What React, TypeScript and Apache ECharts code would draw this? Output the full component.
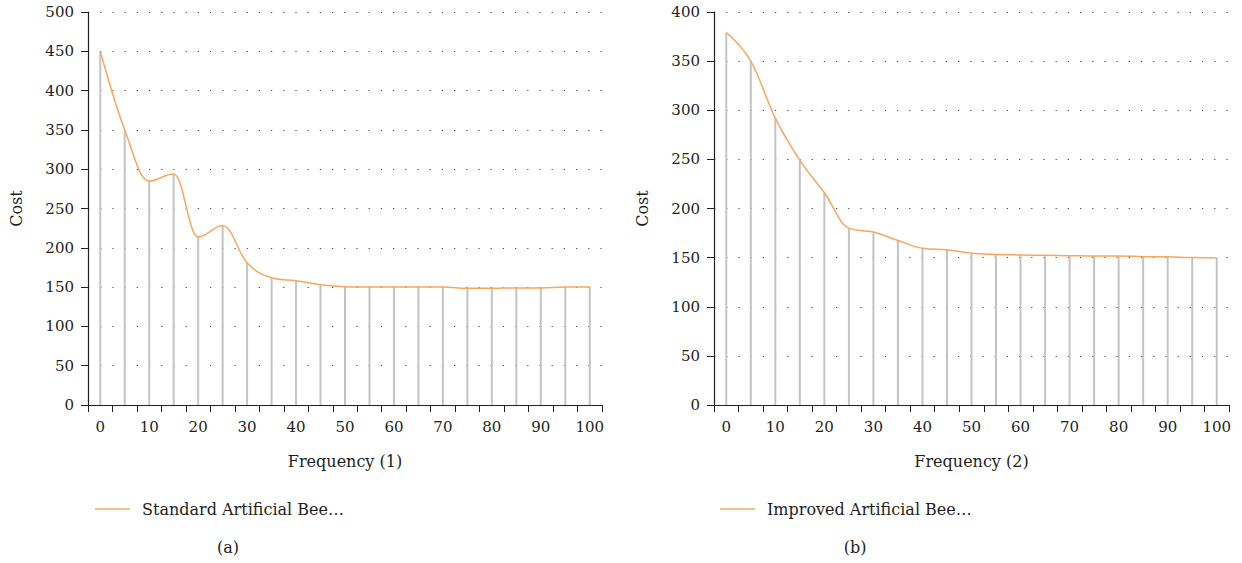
import React, { useEffect, useRef } from "react";
import * as echarts from "echarts";

const categories = ["0","5","10","15","20","25","30","35","40","45","50","55","60","65","70","75","80","85","90","95","100"];
const standardCost = [450, 350, 285, 294, 214, 228, 181, 162, 158, 153, 150.5, 150, 150, 150, 150, 148.5, 148.5, 149, 149, 150, 150];
const improvedCost = [379, 350, 292, 249, 216, 180, 176, 167.5, 159.5, 158, 154.5, 153.3, 152.7, 152.3, 152, 151.6, 151.6, 151, 150.8, 150.2, 150];
const standardName = "Standard Artificial Bee…";
const improvedName = "Improved Artificial Bee…";
const xNames = ["Frequency (1)", "Frequency (2)"];
const yName = "Cost";
const panelLabels = ["(a)", "(b)"];

const FONT = "DejaVu Serif";
const LINE_COLOR = "#f7a75e";
const BAR_COLOR = "#c4c4c8";
const TEXT_COLOR = "#231f20";

// spline path through pixel points (x-weighted control points)
function splinePath(pts: number[][]): string {
  const s = 1.5;
  const d = s + 1;
  const n = pts.length;
  const left: number[][] = [];
  const right: number[][] = [];
  for (let i = 0; i < n; i++) {
    const [x, y] = pts[i];
    if (i === 0 || i === n - 1) {
      left.push([x, y]);
      right.push([x, y]);
      continue;
    }
    const [lx, ly] = pts[i - 1];
    const [nx, ny] = pts[i + 1];
    const lcx = (s * x + lx) / d;
    let lcy = (s * y + ly) / d;
    const rcx = (s * x + nx) / d;
    let rcy = (s * y + ny) / d;
    const corr = ((rcy - lcy) * (rcx - x)) / (rcx - lcx) + y - rcy;
    lcy += corr;
    rcy += corr;
    if (lcy > ly && lcy > y) {
      lcy = Math.max(ly, y);
      rcy = 2 * y - lcy;
    } else if (lcy < ly && lcy < y) {
      lcy = Math.min(ly, y);
      rcy = 2 * y - lcy;
    }
    if (rcy > ny && rcy > y) {
      rcy = Math.max(ny, y);
      lcy = 2 * y - rcy;
    } else if (rcy < ny && rcy < y) {
      rcy = Math.min(ny, y);
      lcy = 2 * y - rcy;
    }
    left.push([lcx, lcy]);
    right.push([rcx, rcy]);
  }
  let p = `M${pts[0][0]},${pts[0][1]}`;
  for (let i = 1; i < n; i++) {
    p += ` C${right[i - 1][0]},${right[i - 1][1]} ${left[i][0]},${left[i][1]} ${pts[i][0]},${pts[i][1]}`;
  }
  return p;
}

export default function App() {
  const ref = useRef<HTMLDivElement>(null);
  useEffect(() => {
    document.body.style.margin = "0";
    const chart = echarts.init(ref.current!, null, { renderer: "svg" });
    const grids = [
      { left: 88, top: 12, width: 514, height: 393 },
      { left: 714, top: 12, width: 515, height: 393 },
    ];
    const xAxis = [0, 1].map((i) => ({
      type: "category",
      gridIndex: i,
      data: categories,
      boundaryGap: true,
      name: xNames[i],
      nameLocation: "middle",
      nameGap: 48,
      nameTextStyle: { fontFamily: FONT, fontSize: 16, color: TEXT_COLOR },
      axisLine: { lineStyle: { color: "#231f20", width: 1.2 } },
      axisTick: { show: true, interval: 0, length: 7, lineStyle: { color: "#231f20" } },
      axisLabel: { interval: 1, margin: 14, fontFamily: FONT, fontSize: 15, color: TEXT_COLOR },
      splitLine: { show: false },
    }));
    const yAxis = [0, 1].map((i) => ({
      type: "value",
      gridIndex: i,
      min: 0,
      max: i === 0 ? 500 : 400,
      interval: 50,
      name: yName,
      nameLocation: "middle",
      nameGap: 64,
      nameRotate: 90,
      nameTextStyle: { fontFamily: FONT, fontSize: 16, color: TEXT_COLOR },
      axisLine: { show: true, lineStyle: { color: "#231f20", width: 1.2 } },
      axisTick: { show: true, length: 7, lineStyle: { color: "#231f20" } },
      axisLabel: { margin: 14, fontFamily: FONT, fontSize: 15, color: TEXT_COLOR },
      splitLine: { show: true, lineStyle: { color: "#444", width: 1, type: [1.2, 11] } },
    }));
    const datasets = [standardCost, improvedCost];
    const names = [standardName, improvedName];
    const series: any[] = [];
    [0, 1].forEach((i) => {
      const values = datasets[i];
      series.push({
        type: "bar",
        name: "stem" + i,
        xAxisIndex: i,
        yAxisIndex: i,
        data: values,
        barWidth: 2,
        itemStyle: { color: BAR_COLOR },
        silent: true,
      });
      series.push({
        type: "custom",
        name: names[i],
        xAxisIndex: i,
        yAxisIndex: i,
        data: values.map((v, j) => [j, v]),
        encode: { x: 0, y: 1 },
        itemStyle: { color: LINE_COLOR },
        z: 5,
        silent: true,
        renderItem: (params: any, api: any) => {
          if (params.dataIndex !== 0) return null;
          const pts = values.map((v, j) => api.coord([j, v]));
          return {
            type: "path",
            shape: { pathData: splinePath(pts) },
            style: { stroke: LINE_COLOR, fill: "none", lineWidth: 1.5 },
          };
        },
      });
    });
    const legendCommon = {
      top: 496,
      icon: "rect",
      itemWidth: 35,
      itemHeight: 1.5,
      textStyle: { fontFamily: FONT, fontSize: 16, color: TEXT_COLOR, padding: [0, 0, 0, 7] },
    };
    chart.setOption({
      animation: false,
      backgroundColor: "#fff",
      grid: grids,
      xAxis,
      yAxis,
      series,
      legend: [
        { ...legendCommon, data: [{ name: standardName, itemStyle: { color: LINE_COLOR } }], left: 90 },
        { ...legendCommon, data: [{ name: improvedName, itemStyle: { color: LINE_COLOR } }], left: 715 },
      ],
      graphic: [
        {
          type: "text",
          x: 228,
          y: 547,
          style: { text: panelLabels[0], fontFamily: FONT, fontSize: 16, fill: TEXT_COLOR, textAlign: "center", textVerticalAlign: "middle" },
        },
        {
          type: "text",
          x: 855,
          y: 547,
          style: { text: panelLabels[1], fontFamily: FONT, fontSize: 16, fill: TEXT_COLOR, textAlign: "center", textVerticalAlign: "middle" },
        },
      ],
    });
    return () => chart.dispose();
  }, []);
  return <div ref={ref} style={{ width: 1242, height: 563, position: "absolute", left: 0, top: 0 }} />;
}
